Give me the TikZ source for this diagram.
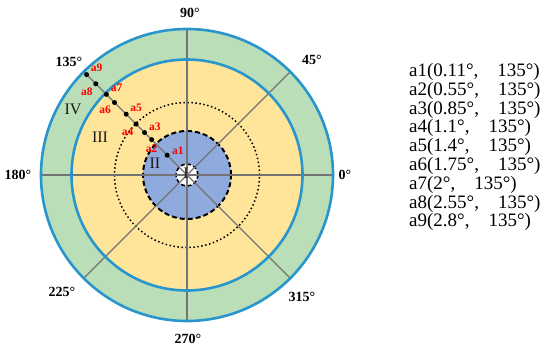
\documentclass[tikz,border=0pt]{standalone}
\usepackage{fontspec}
\setmainfont{Liberation Serif}
\usetikzlibrary{positioning}

\definecolor{ringgreen}{RGB}{186,222,184}
\definecolor{ringyellow}{RGB}{255,229,153}
\definecolor{coreblue}{RGB}{143,170,220}
\definecolor{edgeblue}{RGB}{40,150,205}

\begin{document}
\begin{tikzpicture}[
    x=1pt, y=1pt,
    ring/.style={draw=edgeblue, line width=2.6pt},
    spoke/.style={draw=gray!90!black, line width=1.1pt},
    dashring/.style={draw=black, line width=2pt, dash pattern=on 5pt off 3pt},
    dotring/.style={draw=black, line width=1.5pt, dash pattern=on 1.5pt off 2.5pt},
    deglab/.style={font=\fontsize{14}{14}\selectfont\bfseries, inner sep=0pt},
    zonelab/.style={font=\fontsize{16}{16}\selectfont, text=black!90, inner sep=0pt},
    ptdot/.style={circle, fill=black, inner sep=0pt, minimum size=5pt},
    ptlab/.style={font=\fontsize{11.5}{12}\selectfont\bfseries, text=red,
      inner sep=0pt, label distance=2pt},
    listline/.style={font=\fontsize{19}{19}\selectfont, anchor=west, inner sep=0pt},
  ]
    \useasboundingbox (-187,-178) rectangle (363,175);
    \coordinate (O) at (0,0);

    % ===== Zones (outside in) =====
    \fill[ringgreen] (O) circle (146);
    \fill[ringyellow] (O) circle (115.5);
    \draw[dotring] (O) circle (72.5);
    \fill[coreblue] (O) circle (44);
    \draw[dashring] (O) circle (44);
    \fill[white] (O) circle (11);
    \draw[dashring, line width=1.6pt, dash pattern=on 4pt off 2.5pt] (O) circle (11);

    % ===== Spokes every 45 degrees =====
    \foreach \a in {0,45,...,315}
      \draw[spoke] (O) -- (\a:146);

    \draw[ring] (O) circle (146);
    \draw[ring] (O) circle (115.5);

    % ===== Angle labels =====
    \foreach \d/\x/\y in {0/158/0, 45/125/115, 90/3/162, 135/-118/113,
        180/-169/0, 225/-125/-117, 270/1/-164, 315/115/-122}
      \node[deglab] (deg\d) at (\x,\y) {\d°};

    % ===== Zone numerals =====
    \node[zonelab] (zI) at (-1,2) {I};
    \node[zonelab] (zII) at (-32,12) {II};
    \node[zonelab] (zIII) at (-87,38) {III};
    \node[zonelab] (zIV) at (-114,66) {IV};

    % ===== Sample points on the 135 degree spoke =====
    \foreach \n/\r/\la in {a1/28/10, a2/50/270, a3/60/20, a4/72/236, a5/86/29,
        a6/102.5/225, a7/114/27, a8/129/231, a9/142/29}
      \node[ptdot, label={[ptlab]\la:\n}] (\n) at (135:\r) {};

    % ===== Coordinate list =====
    \foreach \i/\t [count=\k] in {1/0.11, 2/0.55, 3/0.85, 4/1.1, 5/1.4,
        6/1.75, 7/2, 8/2.55, 9/2.8}
      \node[listline] (l\i) at (222, 103-18.8*\k+18.8)
        {a\i(\t°,\hspace{1em}135°)};

\end{tikzpicture}
\end{document}
